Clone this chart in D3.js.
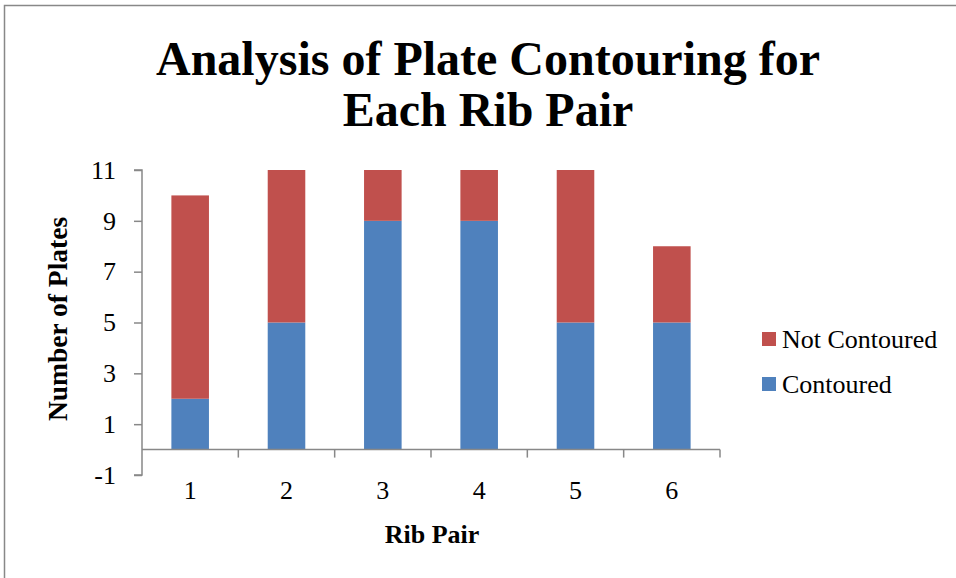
<!DOCTYPE html>
<html><head><meta charset="utf-8">
<script src="https://cdn.jsdelivr.net/npm/d3@7"></script>
<style>body{margin:0;background:#fff}svg{display:block}text{font-family:"Liberation Serif","Times New Roman",serif}</style>
</head><body>
<svg id="c" width="956" height="578"></svg>
<script>
const categories = ["1","2","3","4","5","6"];
const contoured = [2,5,9,9,5,5];
const notContoured = [8,6,2,2,6,3];
const yTicks = [-1,1,3,5,7,9,11];
const seriesNames = ["Contoured","Not Contoured"];
const colors = {"Contoured":"#4F81BD","Not Contoured":"#C0504D"};

const svg = d3.select("#c");
svg.append("rect").attr("x",4.5).attr("y",5.5).attr("width",1000).attr("height",1000)
  .attr("fill","none").attr("stroke","#888").attr("stroke-width",1.5);

const x = d3.scaleBand().domain(categories).range([142,720]).paddingInner(0).paddingOuter(0);
const y = d3.scaleLinear().domain([-1,11]).range([475,170]);

const rows = categories.map((c,i)=>({cat:c,"Contoured":contoured[i],"Not Contoured":notContoured[i]}));
const stack = d3.stack().keys(seriesNames)(rows);
const bw = x.bandwidth()*0.39;
stack.forEach(s=>{
  svg.append("g").selectAll("rect").data(s).join("rect")
    .attr("x",d=>x(d.data.cat)+x.bandwidth()/2-bw/2)
    .attr("width",bw)
    .attr("y",d=>y(d[1]))
    .attr("height",d=>y(d[0])-y(d[1]))
    .attr("fill",colors[s.key]);
});

// y axis
const ya = svg.append("g").attr("transform","translate(142,0)")
  .call(d3.axisLeft(y).tickValues(yTicks).tickSize(8).tickPadding(18).tickFormat(d=>String(d)));
ya.select(".domain").attr("stroke","#888").attr("stroke-width",1.5).attr("d","M-8,"+y(11)+"H0V"+y(-1)+"H-8");
ya.selectAll(".tick line").attr("stroke","#888").attr("stroke-width",1.5);
ya.selectAll(".tick text").attr("font-size",26).attr("fill","#000").style("font-family","Liberation Serif");

// x axis at zero
const xa = svg.append("g").attr("transform","translate(0,"+y(0)+")")
  .call(d3.axisBottom(x).tickSize(0).tickPadding(0));
xa.select(".domain").attr("stroke","#888").attr("stroke-width",1.5).attr("d","M142,0H720");
xa.selectAll(".tick text").remove();
xa.selectAll(".tick line").remove();
const bounds = categories.map(c=>x(c)+x.bandwidth());
xa.selectAll("line.sep").data(bounds).join("line").attr("class","sep")
  .attr("x1",d=>d).attr("x2",d=>d).attr("y1",0).attr("y2",8)
  .attr("stroke","#888").attr("stroke-width",1.5);
svg.append("g").selectAll("text").data(categories).join("text")
  .attr("x",d=>x(d)+x.bandwidth()/2).attr("y",499).attr("text-anchor","middle")
  .attr("font-size",26).text(d=>d);

// titles
svg.append("text").attr("x",488).attr("y",75).attr("text-anchor","middle")
  .attr("font-size",48).attr("font-weight","bold").text("Analysis of Plate Contouring for");
svg.append("text").attr("x",488).attr("y",126).attr("text-anchor","middle")
  .attr("font-size",48).attr("font-weight","bold").text("Each Rib Pair");
svg.append("text").attr("x",432).attr("y",543).attr("text-anchor","middle")
  .attr("font-size",26).attr("font-weight","bold").text("Rib Pair");
svg.append("text").attr("transform","translate(67,319) rotate(-90)").attr("text-anchor","middle")
  .attr("font-size",27.5).attr("font-weight","bold").text("Number of Plates");

// legend
const leg = ["Not Contoured","Contoured"];
const lg = svg.append("g").selectAll("g").data(leg).join("g")
  .attr("transform",(d,i)=>"translate(762,"+(332+i*45)+")");
lg.append("rect").attr("width",14).attr("height",14).attr("fill",d=>colors[d]);
lg.append("text").attr("x",20).attr("y",16).attr("font-size",26).text(d=>d);
</script>
</body></html>
